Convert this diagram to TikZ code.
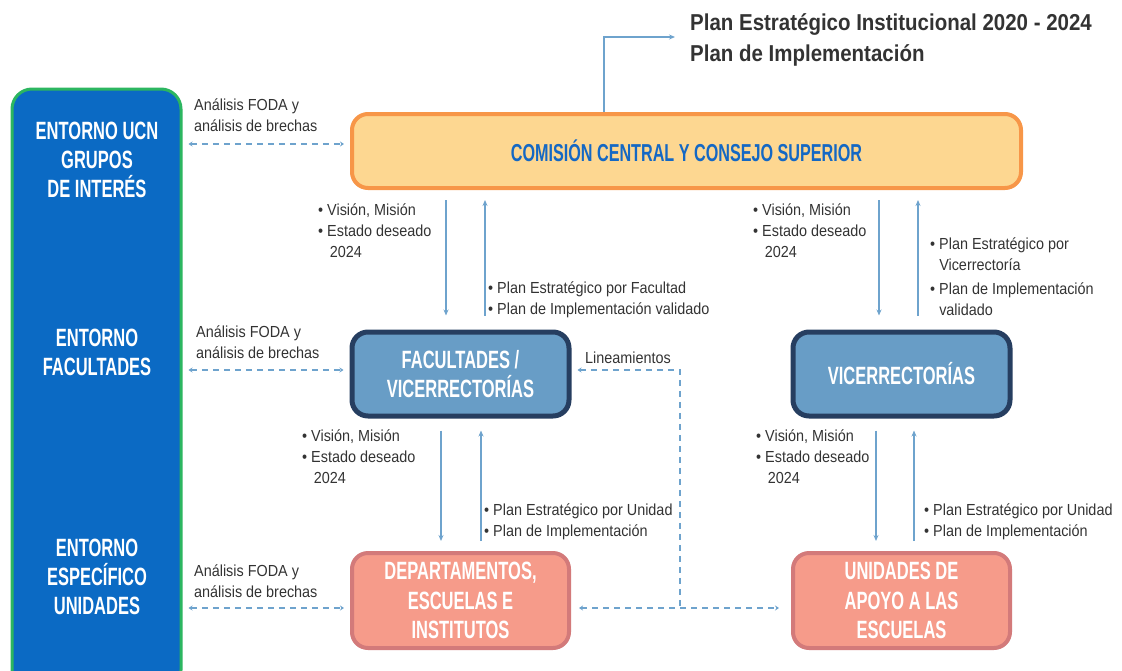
\documentclass[tikz,border=0pt]{standalone}
\usepackage{fontspec}
\setmainfont{Liberation Sans}
\newfontfamily\boxfont[FakeStretch=0.66]{Liberation Sans}
\newfontfamily\labfont[FakeStretch=0.9]{Liberation Sans}
\newfontfamily\titfont[FakeStretch=0.89]{Liberation Sans}
\usetikzlibrary{positioning, calc, arrows.meta}
\definecolor{UCNBlue}{RGB}{11,106,196}
\definecolor{UCNGreen}{RGB}{44,182,96}
\definecolor{CCFill}{RGB}{253,215,145}
\definecolor{CCLine}{RGB}{247,150,72}
\definecolor{CCText}{RGB}{20,104,196}
\definecolor{FVFill}{RGB}{104,157,198}
\definecolor{FVLine}{RGB}{38,62,96}
\definecolor{DEFill}{RGB}{246,155,138}
\definecolor{DELine}{RGB}{211,122,122}
\definecolor{ArrBlue}{RGB}{110,163,205}
\definecolor{TxtGray}{RGB}{51,51,51}
\newcommand{\bul}{\textbullet\ }
\tikzset{
    envbox/.style={
        rectangle, rounded corners=20pt, draw=UCNGreen, line width=3pt, fill=UCNBlue
    },
    envtext/.style={
        align=center, text=white, font=\boxfont\bfseries\fontsize{25}{29}\selectfont
    },
    unitbox/.style={
        rectangle, rounded corners=16pt, align=center, text=white,
        font=\boxfont\bfseries\fontsize{25}{29.5}\selectfont
    },
    flow/.style={
        -{Stealth[length=6pt,width=5pt]}, line width=2pt, ArrBlue
    },
    dflow/.style={
        {Stealth[length=4pt,width=5pt]}-{Stealth[length=4pt,width=5pt]},
        line width=2pt, ArrBlue, dash pattern=on 6pt off 5pt
    },
    labtext/.style={
        align=left, inner sep=0pt, anchor=north west, text=TxtGray,
        font=\labfont\fontsize{16}{21}\selectfont
    }
}
\begin{document}
\begin{tikzpicture}[x=1pt, y=-1pt]
    \useasboundingbox (0,0) rectangle (1122,670);

    % --- ENTORNOS (panel izquierdo) ---
    \node[envbox, minimum width=169pt, minimum height=601pt] (ENT) at (96.5,389.5) {};
    \node[envtext] (ent1) at (97,160) {ENTORNO UCN\\GRUPOS\\DE INTERÉS};
    \node[envtext] (ent2) at (97,352) {ENTORNO\\FACULTADES};
    \node[envtext] (ent3) at (97,577) {ENTORNO\\ESPECÍFICO\\UNIDADES};

    % --- CAJAS PRINCIPALES ---
    \node[unitbox, draw=CCLine, line width=4pt, fill=CCFill, text=CCText,
          minimum width=669pt, minimum height=74pt,
          font=\boxfont\bfseries\fontsize{24.5}{28}\selectfont] (CC) at (686.5,151)
        {COMISIÓN CENTRAL Y CONSEJO SUPERIOR};
    \node[unitbox, draw=FVLine, line width=5pt, fill=FVFill,
          minimum width=217pt, minimum height=84pt] (FV) at (460.5,374)
        {FACULTADES /\\VICERRECTORÍAS};
    \node[unitbox, draw=FVLine, line width=5pt, fill=FVFill,
          minimum width=217pt, minimum height=84pt] (VR) at (901.5,374)
        {VICERRECTORÍAS};
    \node[unitbox, draw=DELine, line width=4pt, fill=DEFill,
          minimum width=217pt, minimum height=95pt] (DE) at (460.5,600.5)
        {DEPARTAMENTOS,\\ESCUELAS E\\INSTITUTOS};
    \node[unitbox, draw=DELine, line width=4pt, fill=DEFill,
          minimum width=217pt, minimum height=95pt] (UA) at (901.5,600.5)
        {UNIDADES DE\\APOYO A LAS\\ESCUELAS};

    % --- TITULO ---
    \node[anchor=west, align=left, text=TxtGray, inner sep=3pt,
          font=\titfont\bfseries\fontsize{23}{31}\selectfont] (T) at (687,40)
        {Plan Estratégico Institucional 2020 - 2024\\Plan de Implementación};
    \draw[flow, shorten >=12pt] ([xshift=-82.5pt]CC.north) |- ([yshift=3pt]T.west);

    % --- FLUJOS VERTICALES ---
    \draw[flow, shorten <=10pt, shorten >=14pt] ([xshift=-14.5pt]FV.north |- CC.south) -- ([xshift=-14.5pt]FV.north);
    \draw[flow, shorten <=14pt, shorten >=10pt] ([xshift=24.5pt]FV.north) -- ([xshift=24.5pt]FV.north |- CC.south);
    \draw[flow, shorten <=10pt, shorten >=14pt] ([xshift=-22.5pt]VR.north |- CC.south) -- ([xshift=-22.5pt]VR.north);
    \draw[flow, shorten <=14pt, shorten >=10pt] ([xshift=16.5pt]VR.north) -- ([xshift=16.5pt]VR.north |- CC.south);

    \draw[flow, shorten <=12pt, shorten >=10pt] ([xshift=-19.5pt]FV.south) -- ([xshift=-19.5pt]FV.south |- DE.north);
    \draw[flow, shorten <=10pt, shorten >=12pt] ([xshift=20.5pt]FV.south |- DE.north) -- ([xshift=20.5pt]FV.south);
    \draw[flow, shorten <=12pt, shorten >=10pt] ([xshift=-25.5pt]VR.south) -- ([xshift=-25.5pt]VR.south |- UA.north);
    \draw[flow, shorten <=10pt, shorten >=12pt] ([xshift=12.5pt]VR.south |- UA.north) -- ([xshift=12.5pt]VR.south);

    % --- FLUJOS CON ENTORNOS (punteados) ---
    \draw[dflow, shorten <=6pt, shorten >=6pt] ([yshift=7pt]ENT.east |- CC.west) -- ([yshift=7pt]CC.west);
    \draw[dflow, shorten <=6pt, shorten >=6pt] ([yshift=4pt]ENT.east |- FV.west) -- ([yshift=4pt]FV.west);
    \draw[dflow, shorten <=6pt, shorten >=6pt] ([yshift=-7.5pt]ENT.east |- DE.west) -- ([yshift=-7.5pt]DE.west);

    % --- LINEAMIENTOS ---
    \coordinate (L1) at (680,370);
    \coordinate (L2) at (680,608);
    \draw[dflow, {Stealth[length=4pt,width=5pt]}-, shorten <=6pt] ([yshift=4pt]FV.east) -- (L1) -- (L2);
    \draw[dflow, shorten <=8pt, shorten >=12pt] ([yshift=-7.5pt]DE.east) -- ([yshift=-7.5pt]UA.west);
    \node[labtext, anchor=west] (lin) at (585,358) {Lineamientos};

    % --- ETIQUETAS ---
    \node[labtext] (fodaA) at (194,99) {Análisis FODA y\\análisis de brechas};
    \node[labtext] (fodaB) at (196,326) {Análisis FODA y\\análisis de brechas};
    \node[labtext] (fodaC) at (194,565) {Análisis FODA y\\análisis de brechas};

    \node[labtext] (visA) at (318,204) {\bul Visión, Misión\\\bul Estado deseado\\\phantom{\bul}\,2024};
    \node[labtext] (visB) at (753,204) {\bul Visión, Misión\\\bul Estado deseado\\\phantom{\bul}\,2024};
    \node[labtext] (visC) at (302,430) {\bul Visión, Misión\\\bul Estado deseado\\\phantom{\bul}\,2024};
    \node[labtext] (visD) at (756,430) {\bul Visión, Misión\\\bul Estado deseado\\\phantom{\bul}\,2024};

    \node[labtext] (planA) at (488,282) {\bul Plan Estratégico por Facultad\\\bul Plan de Implementación validado};
    \node[labtext] (planB) at (930,238) {\bul Plan Estratégico por\\\phantom{\bul}Vicerrectoría\\[3pt]\bul Plan de Implementación\\\phantom{\bul}validado};
    \node[labtext] (planC) at (484,504) {\bul Plan Estratégico por Unidad\\\bul Plan de Implementación};
    \node[labtext] (planD) at (924,504) {\bul Plan Estratégico por Unidad\\\bul Plan de Implementación};
\end{tikzpicture}
\end{document}
